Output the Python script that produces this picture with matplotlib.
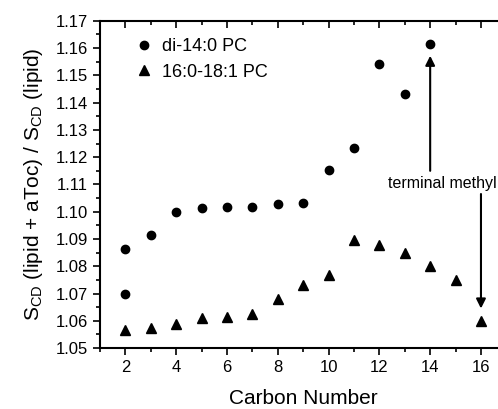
import matplotlib
matplotlib.use("Agg")
from matplotlib import pyplot as plt
from matplotlib.ticker import MultipleLocator

plt.rcParams['font.family'] = ['Liberation Sans', 'DejaVu Sans']
plt.rcParams['mathtext.fontset'] = 'custom'
plt.rcParams['mathtext.rm'] = 'Liberation Sans'

# di-14:0 PC (two values at carbon 2)
dmpc_x = [2, 2, 3, 4, 5, 6, 7, 8, 9, 10, 11, 12, 13, 14]
dmpc_y = [1.0865, 1.0697, 1.0913, 1.0998, 1.1012, 1.1018, 1.1017,
          1.1027, 1.1033, 1.1153, 1.1233, 1.1543, 1.1431, 1.1614]

# 16:0-18:1 PC
popc_x = [2, 3, 4, 5, 6, 7, 8, 9, 10, 11, 12, 13, 14, 15, 16]
popc_y = [1.0567, 1.0575, 1.0590, 1.0609, 1.0614, 1.0626, 1.0679, 1.0730,
          1.0769, 1.0897, 1.0877, 1.0849, 1.0800, 1.0750, 1.0599]

fig = plt.figure(figsize=(4.98, 4.09), dpi=100)
ax = fig.add_axes([0.2008, 0.149, 0.8160, 0.8000])

ax.plot(dmpc_x, dmpc_y, 'o', color='black', markersize=6, label='di-14:0 PC')
ax.plot(popc_x, popc_y, '^', color='black', markersize=6.5, label='16:0-18:1 PC')

ax.set_xlim(1, 17)
ax.set_ylim(1.05, 1.17)
ax.xaxis.set_major_locator(MultipleLocator(2))
ax.xaxis.set_minor_locator(MultipleLocator(1))
ax.yaxis.set_major_locator(MultipleLocator(0.01))
ax.yaxis.set_minor_locator(MultipleLocator(0.005))
ax.yaxis.set_major_formatter(matplotlib.ticker.FormatStrFormatter('%.2f'))

ax.tick_params(axis='both', which='both', direction='out', labelsize=12, width=1.2)
ax.tick_params(which='major', length=5)
ax.tick_params(which='minor', length=3)
ax.tick_params(axis='x', which='both', top=True)
ax.spines['right'].set_visible(False)
for s in ax.spines.values():
    s.set_linewidth(1.5)

# top ticks point inward
for t in ax.xaxis.get_major_ticks() + ax.xaxis.get_minor_ticks():
    t.tick2line.set_marker(matplotlib.lines.TICKDOWN)

ax.set_xlabel('Carbon Number', fontsize=15, labelpad=10)
ax.set_ylabel(r'S$_{\mathregular{CD}}$ (lipid + aToc) / S$_{\mathregular{CD}}$ (lipid)',
              fontsize=15, labelpad=8)

ax.legend(loc='upper left', frameon=False, fontsize=13, handletextpad=0.5,
          borderaxespad=0.3, bbox_to_anchor=(0.055, 0.985), handlelength=1,
          labelspacing=0.45)

ax.annotate('', xy=(14, 1.1572), xytext=(14, 1.1150),
            arrowprops=dict(arrowstyle='-|>', color='black', lw=1.5,
                            mutation_scale=14, shrinkA=0, shrinkB=0))
ax.annotate('', xy=(16, 1.0645), xytext=(16, 1.1065),
            arrowprops=dict(arrowstyle='-|>', color='black', lw=1.5,
                            mutation_scale=14, shrinkA=0, shrinkB=0))
ax.text(14.46, 1.1105, 'terminal methyl', fontsize=11.5, ha='center', va='center')

fig.savefig('out.png', dpi=100)
